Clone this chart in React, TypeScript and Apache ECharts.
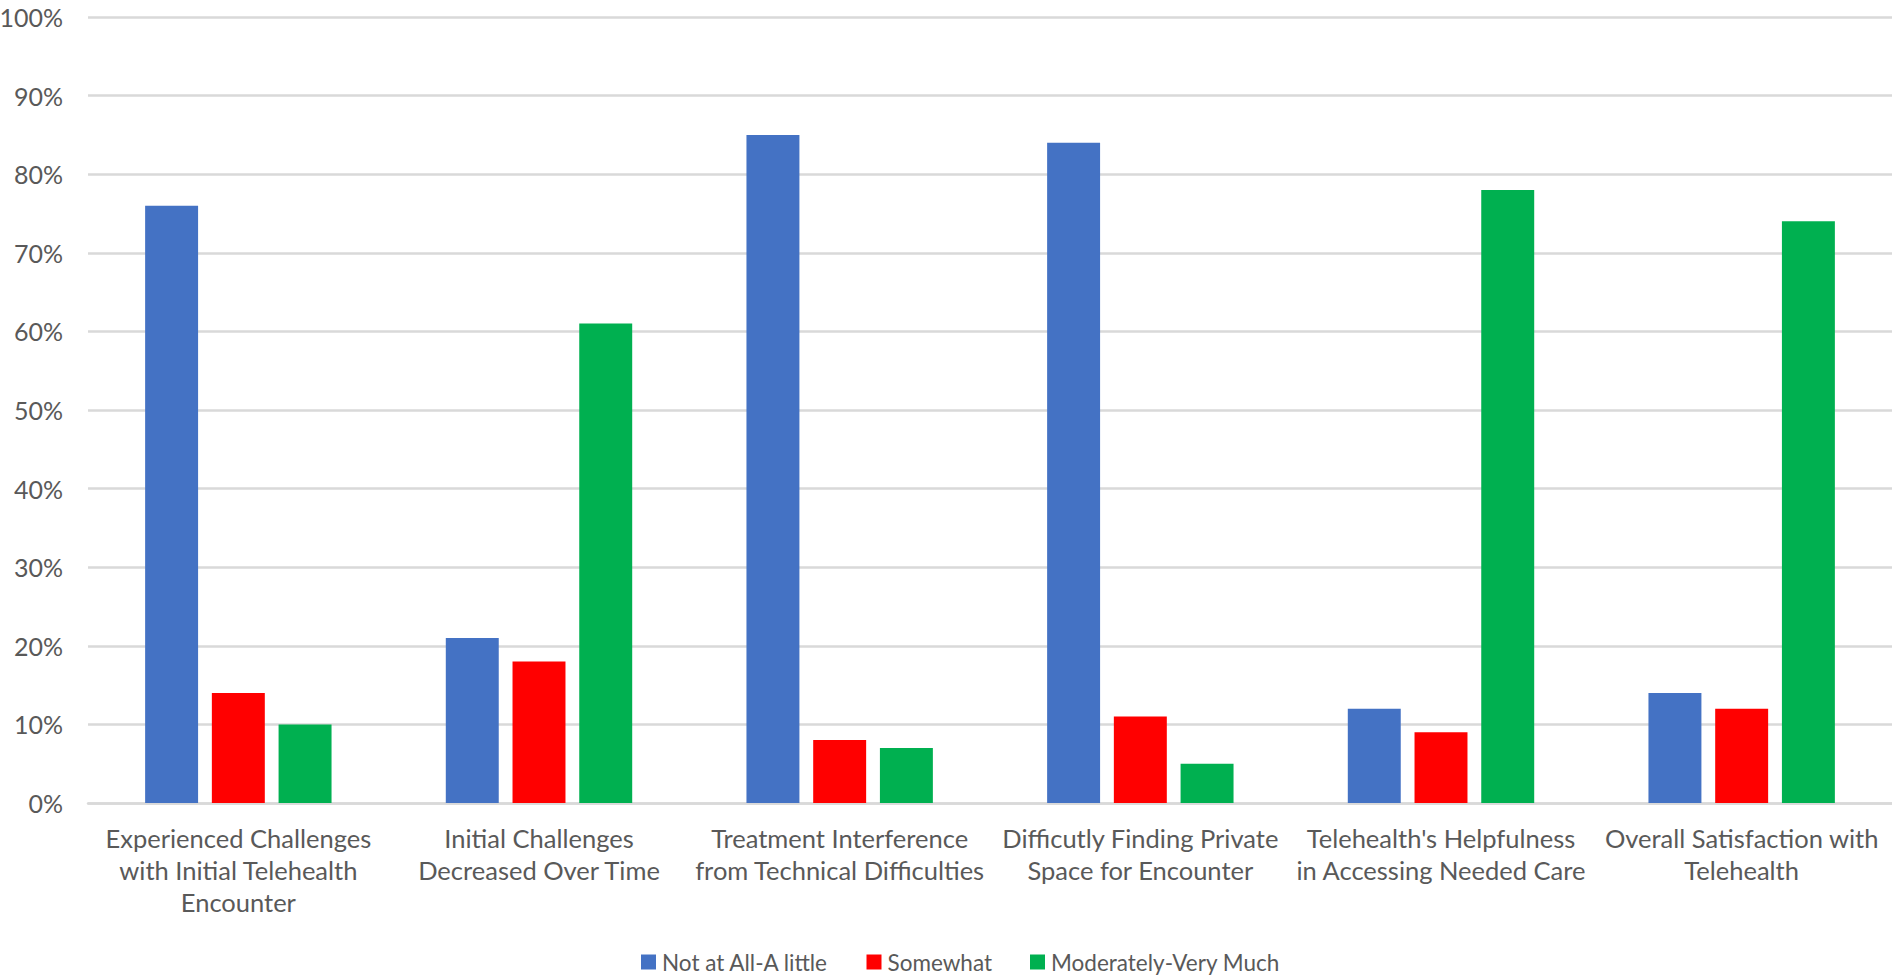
import React, { useEffect, useRef } from "react";
import * as echarts from "echarts";

const categories = [
  "Experienced Challenges\nwith Initial Telehealth\nEncounter",
  "Initial Challenges\nDecreased Over Time",
  "Treatment Interference\nfrom Technical Difficulties",
  "Difficutly Finding Private\nSpace for Encounter",
  "Telehealth's Helpfulness\nin Accessing Needed Care",
  "Overall Satisfaction with\nTelehealth",
];

const seriesNames = ["Not at All-A little", "Somewhat", "Moderately-Very Much"];
const notAtAll = [76, 21, 85, 84, 12, 14];
const somewhat = [14, 18, 8, 11, 9, 12];
const moderately = [10, 61, 7, 5, 78, 74];
const colors = ["#4472C4", "#FF0000", "#00B050"];

const FONT = "Lato, 'Open Sans', sans-serif";
const TEXT = "#595959";

export default function App() {
  const ref = useRef<HTMLDivElement>(null);
  useEffect(() => {
    document.body.style.margin = "0";
    const chart = echarts.init(ref.current!, null, { renderer: "svg" });
    const values = [notAtAll, somewhat, moderately];
    chart.setOption({
      animation: false,
      textStyle: { fontFamily: FONT },
      grid: {
        left: 88,
        right: 0,
        top: 17,
        bottom: 176,
        containLabel: false,
        outerBoundsMode: "none",
      },
      legend: {
        top: 950,
        left: 641,
        padding: 0,
        itemWidth: 15,
        itemHeight: 15,
        itemGap: 38,
        icon: "rect",
        textStyle: {
          color: TEXT,
          fontSize: 22.5,
          lineHeight: 24,
          fontFamily: FONT,
          padding: [0, 0, 0, 1],
        },
        data: seriesNames,
      },
      xAxis: {
        type: "category",
        data: categories,
        axisTick: { show: false },
        axisLine: { lineStyle: { color: "#D9D9D9", width: 2.5 } },
        axisLabel: {
          interval: 0,
          color: TEXT,
          fontSize: 25.5,
          lineHeight: 32,
          margin: 19,
          fontFamily: FONT,
        },
      },
      yAxis: {
        type: "value",
        min: 0,
        max: 100,
        interval: 10,
        axisLabel: {
          color: TEXT,
          fontSize: 25,
          margin: 25,
          formatter: "{value}%",
          fontFamily: FONT,
        },
        splitLine: { lineStyle: { color: "#D9D9D9", width: 2.5 } },
        axisLine: { show: false },
        axisTick: { show: false },
      },
      series: seriesNames.map((name, i) => ({
        name,
        type: "bar",
        data: values[i],
        itemStyle: { color: colors[i] },
        barGap: "26%",
        barCategoryGap: "38%",
      })),
    });
    return () => chart.dispose();
  }, []);
  return (
    <div
      ref={ref}
      style={{ position: "absolute", left: 0, top: 0, width: 1892, height: 979 }}
    />
  );
}
